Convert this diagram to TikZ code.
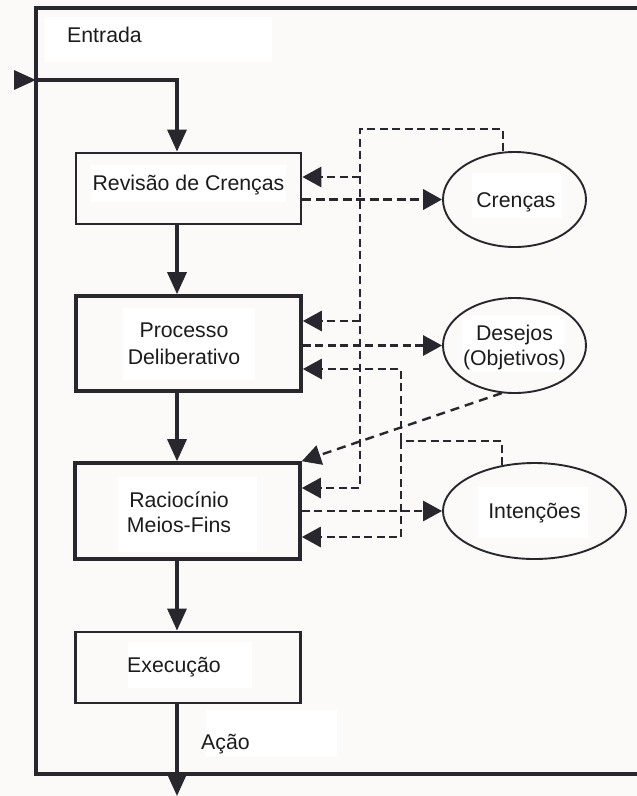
\documentclass[tikz,border=0pt]{standalone}
\usepackage{fontspec}
\setmainfont{Liberation Sans}
\usetikzlibrary{arrows.meta,shapes.geometric}
\definecolor{ink}{RGB}{40,39,45}
\definecolor{txt}{RGB}{28,28,30}
\definecolor{paper}{RGB}{251,250,248}
\begin{document}
\begin{tikzpicture}[x=1pt,y=-1pt,
  every node/.style={inner sep=0pt,outer sep=0pt},
  txtlabel/.style={anchor=base,text=txt,align=center,font=\fontsize{21.3}{25}\selectfont},
  stage/.style={draw=ink,rectangle,minimum width=225pt,line width=2.8pt,outer sep=1.4pt},
  heavystage/.style={stage,line width=3.6pt,outer sep=1.8pt},
  store/.style={draw=ink,ellipse,line width=1.9pt,outer sep=0.9pt},
  flow/.style={draw=ink,line width=3.3pt,-{Triangle[length=22pt,width=19pt]}},
  fb/.style={draw=ink,line width=2.9pt,dash pattern=on 8pt off 4.5pt,-{Triangle[length=19pt,width=20pt]}},
  patch/.style={fill=white}
]
% page and light label backgrounds
\useasboundingbox (0,0) rectangle (637,796);
\fill[paper] (0,0) rectangle (637,796);
\fill[patch] (45,17) rectangle (272,62);
\fill[patch] (91,165) rectangle (286,202);
\fill[patch] (123,308) rectangle (255,380);
\fill[patch] (118,477) rectangle (257,552);
\fill[patch] (128,642) rectangle (252,688);
\fill[patch] (206,710) rectangle (337,757);
\fill[patch] (472,173) rectangle (562,218);
\fill[patch] (462,315) rectangle (565,372);
\fill[patch] (478,487) rectangle (588,538);

% agent frame (open to the right)
\draw[ink,line width=3.2pt] (640,8) -- (36,8) -- (36,774) -- (640,774);

% processing stages
\node[stage,minimum height=71pt] (rev) at (188.5,188.5) {};
\node[heavystage,minimum height=95pt] (proc) at (188.5,343.5) {};
\node[heavystage,minimum height=96pt] (rac) at (187.5,511) {};
\node[stage,minimum height=71pt] (exe) at (188,667.5) {};

% mental state stores
\node[store,minimum width=143pt,minimum height=95pt] (cren) at (514.5,199.5) {};
\node[store,minimum width=143pt,minimum height=95pt] (des) at (514.5,345.5) {};
\node[store,minimum width=183pt,minimum height=96pt] (int) at (534.5,511) {};

% labels
\node[txtlabel] (tEntrada) at (104.5,42) {Entrada};
\node[txtlabel] (tRev) at (188.5,190.5) {Revisão de Crenças};
\node[txtlabel,font=\fontsize{21.3}{27}\selectfont] (tProc) at (184,364) {Processo\\Deliberativo};
\node[txtlabel] (tRac) at (179,532) {Raciocínio\\Meios-Fins};
\node[txtlabel] (tExe) at (174,672) {Execução};
\node[txtlabel] (tAcao) at (225.5,749) {Ação};
\node[txtlabel] (tCren) at (516,207) {Crenças};
\node[txtlabel] (tDes) at (514.5,365) {Desejos\\(Objetivos)};
\node[txtlabel] (tInt) at (534.5,518) {Intenções};

% main control flow
\coordinate (spine) at (177,0);
\coordinate (inStart) at (14,80);
\coordinate (inGate) at (36,80);
\coordinate (inTurn) at (177,80);
\coordinate (outEnd) at (177,796);
\draw[flow] (inStart) -- (inGate);
\draw[flow] (inGate) -- (inTurn) -- (rev.north -| spine);
\draw[flow] (rev.south -| spine) -- (proc.north -| spine);
\draw[flow] (proc.south -| spine) -- (rac.north -| spine);
\draw[flow] (rac.south -| spine) -- (exe.north -| spine);
\draw[flow] (exe.south -| spine) -- (outEnd);

% beliefs: update and feedback bus
\coordinate (cTop) at (503,129);
\coordinate (cBus) at (360,129);
\coordinate (cRev) at (360,177);
\coordinate (cProc) at (360,321);
\coordinate (cRac) at (360,488);
\draw[fb,line width=3.7pt,dash pattern=on 9pt off 4.5pt] (rev.east |- cren.west) -- (cren.west);
\draw[fb] (cren.north -| cTop) -- (cTop) -- (cBus) -- (cRac) -- (cRac -| rac.east);
\draw[fb] (cRev) -- (cRev -| rev.east);
\draw[fb] (cProc) -- (cProc -| proc.east);

% desires
\draw[fb] (proc.east |- des.west) -- (des.west);
\draw[fb,dash pattern=on 9pt off 6pt,line width=2.4pt] (des.255) -- (rac.north east);

% intentions: update and feedback bus
\coordinate (iTop) at (502,441);
\coordinate (iBus) at (401,441);
\coordinate (iProc) at (401,369);
\coordinate (iRac) at (401,537);
\draw[fb] (rac.east) -- (int.west);
\draw[fb] (iTop |- int.126) -- (iTop) -- (iBus) -- (iProc) -- (iProc -| proc.east);
\draw[fb] (iBus) -- (iRac) -- (iRac -| rac.east);
\end{tikzpicture}
\end{document}
